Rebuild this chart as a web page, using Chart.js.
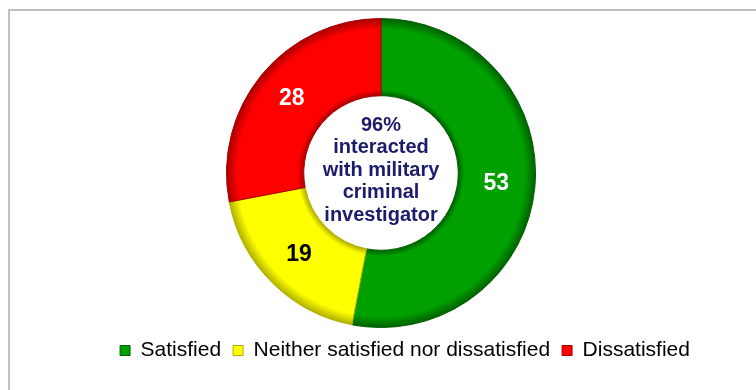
<!DOCTYPE html>
<html>
<head>
<meta charset="utf-8">
<script src="https://cdn.jsdelivr.net/npm/chart.js@4.4.1/dist/chart.umd.min.js"></script>
<style>
  html, body { margin: 0; padding: 0; background: #fff; }
  #wrap { position: relative; width: 756px; height: 390px; }
  #frame { position: absolute; left: 8px; top: 9px; right: 0; bottom: 0;
           border-top: 2px solid #c0c0c0; border-left: 2px solid #c0c0c0; }
  canvas { position: absolute; left: 0; top: 0; }
</style>
</head>
<body>
<div id="wrap">
  <div id="frame"></div>
  <canvas id="chart" width="756" height="390"></canvas>
</div>
<script>
const categories = ['Satisfied', 'Neither satisfied nor dissatisfied', 'Dissatisfied'];
const values = [53, 19, 28];
const baseColors = ['#00a000', '#ffff00', '#ff0000'];
const edgeColors = ['#006000', '#b0b000', '#a80000'];
const labelColors = ['#ffffff', '#000000', '#ffffff'];
const centerLines = ['96%', 'interacted', 'with military', 'criminal', 'investigator'];

// Radial shading so each ring segment looks bevelled at its inner and outer rims
function ringGradient(ctx) {
  const i = ctx.dataIndex;
  const chart = ctx.chart;
  const area = chart.chartArea;
  const ctrl = chart.getDatasetMeta(0).controller;
  if (!area || !ctrl || !ctrl.outerRadius) return baseColors[i];
  const x = (area.left + area.right) / 2 + (ctrl.offsetX || 0);
  const y = (area.top + area.bottom) / 2 + (ctrl.offsetY || 0);
  const r0 = ctrl.innerRadius, r1 = ctrl.outerRadius;
  const g = chart.ctx.createRadialGradient(x, y, r0, x, y, r1);
  g.addColorStop(0, edgeColors[i]);
  g.addColorStop(0.08, baseColors[i]);
  g.addColorStop(0.86, baseColors[i]);
  g.addColorStop(1, edgeColors[i]);
  return g;
}

// Segment values written at the middle of each arc
const valueLabels = {
  id: 'valueLabels',
  afterDatasetsDraw(chart) {
    const ctx = chart.ctx;
    const meta = chart.getDatasetMeta(0);
    ctx.save();
    ctx.font = 'bold 23px "Liberation Sans", Arial, sans-serif';
    ctx.textAlign = 'center';
    ctx.textBaseline = 'middle';
    meta.data.forEach((arc, i) => {
      const p = arc.tooltipPosition();
      ctx.fillStyle = labelColors[i];
      ctx.fillText(String(values[i]), p.x, p.y);
    });
    ctx.restore();
  }
};

// Caption inside the hole of the ring
const centerText = {
  id: 'centerText',
  afterDatasetsDraw(chart) {
    const ctx = chart.ctx;
    const arc = chart.getDatasetMeta(0).data[0];
    const cx = arc.x, cy = arc.y - 3;
    ctx.save();
    ctx.font = 'bold 20px "Liberation Sans", Arial, sans-serif';
    ctx.fillStyle = '#1c1c6b';
    ctx.textAlign = 'center';
    ctx.textBaseline = 'middle';
    const lh = 22.5;
    const start = cy - lh * (centerLines.length - 1) / 2;
    centerLines.forEach((t, k) => ctx.fillText(t, cx, start + k * lh));
    ctx.restore();
  }
};

// Legend row sits a little right of the ring's centre line
const legendShift = {
  id: 'legendShift',
  afterLayout(chart) {
    const lg = chart.legend;
    if (lg) { lg.left += 24; lg.right += 24; }
  }
};

new Chart(document.getElementById('chart'), {
  type: 'doughnut',
  data: {
    labels: categories,
    datasets: [{
      data: values,
      backgroundColor: ringGradient,
      borderColor: edgeColors,
      borderWidth: 1
    }]
  },
  options: {
    responsive: false,
    animation: false,
    cutout: '50%',
    layout: { padding: { top: 18, left: 6, right: 0, bottom: 19 } },
    plugins: {
      tooltip: { enabled: false },
      legend: {
        position: 'bottom',
        labels: {
          color: '#000',
          font: { size: 21, family: '"Liberation Sans", Arial, sans-serif' },
          boxWidth: 10,
          boxHeight: 10,
          padding: 12,
          generateLabels: () => categories.map((c, i) => ({
            text: c,
            fillStyle: baseColors[i],
            strokeStyle: edgeColors[i],
            lineWidth: 1,
            index: i,
            datasetIndex: 0
          }))
        }
      }
    }
  },
  plugins: [legendShift, valueLabels, centerText]
});
</script>
</body>
</html>
